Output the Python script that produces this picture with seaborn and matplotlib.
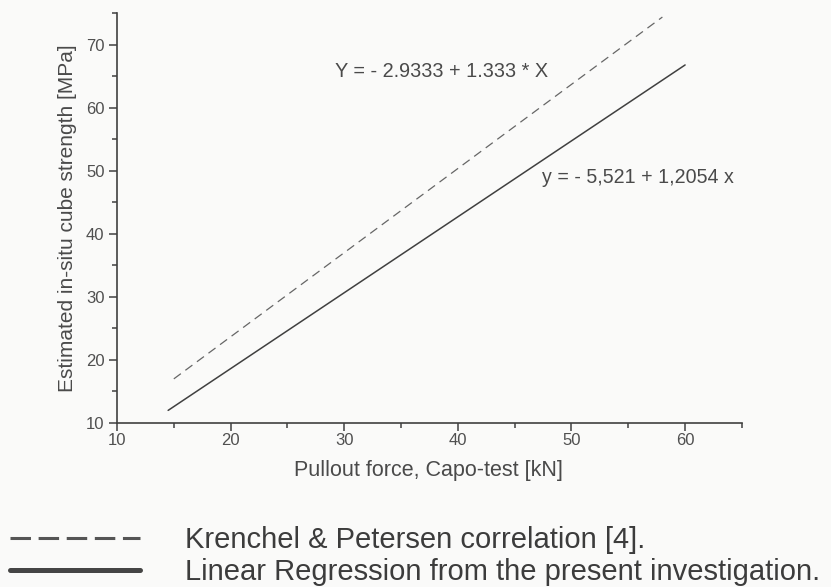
import pandas as pd
import seaborn as sns
import matplotlib.pyplot as plt
from matplotlib.ticker import MultipleLocator

# endpoints
krenchel_x = [15.0, 58.0]
krenchel_y = [17.0, 74.4]
regress_x = [14.5, 60.0]
regress_y = [12.0, 66.8]

label_krenchel = "Krenchel & Petersen correlation [4]."
label_regress = "Linear Regression from the present investigation."
eq_krenchel = "Y = - 2.9333 + 1.333 * X"
eq_regress = "y = - 5,521 + 1,2054 x"

df = pd.DataFrame({
    "x": krenchel_x + regress_x,
    "y": krenchel_y + regress_y,
    "serie": [label_krenchel] * 2 + [label_regress] * 2,
})

sns.set_style("ticks")
plt.rcParams['font.family'] = ['Liberation Sans', 'DejaVu Sans']
grey = "#404040"
bg = "#fafaf9"

fig = plt.figure(figsize=(8.31, 5.87), dpi=100, facecolor=bg)
ax = fig.add_axes([0.1408, 0.2794, 0.752, 0.698])
ax.set_facecolor(bg)

sns.lineplot(data=df, x="x", y="y", hue="serie", style="serie",
             palette=["#666666", grey], dashes=[(7, 4.5), ""],
             linewidth=1.1, legend=False, ax=ax)
ax.lines[0].set_linewidth(0.9)

ax.set_xlim(10, 65)
ax.set_ylim(10, 75)
ax.set_xticks([10, 20, 30, 40, 50, 60])
ax.xaxis.set_minor_locator(MultipleLocator(5))
ax.set_yticks([10, 20, 30, 40, 50, 60, 70])
ax.yaxis.set_minor_locator(MultipleLocator(5))
ax.tick_params(which="major", length=6, width=1.1, color=grey, labelsize=12,
               labelcolor="#505050")
ax.tick_params(axis="y", pad=3)
ax.tick_params(axis="x", pad=1.5)
ax.tick_params(which="minor", length=3.5, width=1.1, color=grey)
for s in ["left", "bottom"]:
    ax.spines[s].set_color(grey)
    ax.spines[s].set_linewidth(1.2)
sns.despine(ax=ax)

ax.set_xlabel("Pullout force, Capo-test [kN]", fontsize=15.5, color="#4a4a4a", va="center")
ax.xaxis.set_label_coords(0.498, -0.117)
ax.set_ylabel("Estimated in-situ cube strength [MPa]", fontsize=15, color="#4a4a4a", va="center")
ax.yaxis.set_label_coords(-0.08, 0.5)

ax.text(29.2, 65.7, eq_krenchel, fontsize=14.3, color="#4a4a4a", va="center")
ax.text(47.4, 48.9, eq_regress, fontsize=14.1, color="#4a4a4a", va="center")

handles = [plt.Line2D([], [], color="#555555", lw=2.2, dashes=(6.7, 2.5)),
           plt.Line2D([], [], color="#454545", lw=3.6)]
leg = fig.legend(handles, [label_krenchel, label_regress], loc="center left",
                 bbox_to_anchor=(0.012, 0.053), frameon=False,
                 handlelength=4.45, handletextpad=1.54, labelspacing=0.13,
                 borderpad=0, borderaxespad=0, prop={"size": 21})
for t in leg.get_texts():
    t.set_color("#3c3c3c")

fig.savefig("out.png", dpi=100, facecolor=bg)
